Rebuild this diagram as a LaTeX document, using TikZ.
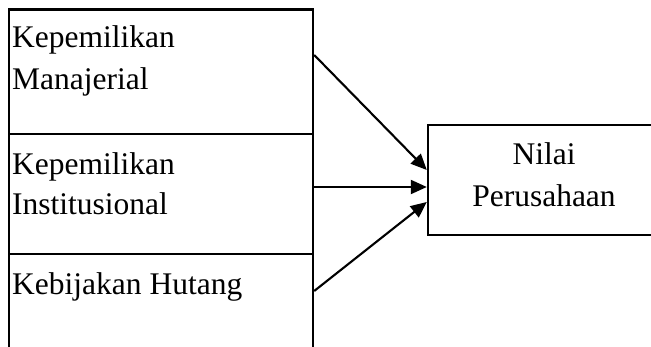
\documentclass[tikz,border=0pt]{standalone}
\usepackage{fontspec}
\setmainfont{Liberation Serif}
\usetikzlibrary{arrows.meta}
\begin{document}
\begin{tikzpicture}[x=1pt,y=-1pt,
  box/.style={draw, line width=2.4pt, rectangle, inner sep=0pt},
  lbl/.style={font=\fontsize{31.5}{42}\selectfont, inner sep=0pt},
  link/.style={line width=2.1pt, -{Triangle[length=16pt,width=14pt]}}]
\useasboundingbox (0,0) rectangle (651,347);
\clip (0,0) rectangle (651,347);

% stacked variable boxes on the left (the last one runs off the bottom)
\node[box, minimum width=304pt, minimum height=124.5pt] (b1) at (161,71.75) {};
\node[box, minimum width=304pt, minimum height=120pt]   (b2) at (161,194) {};
\node[box, minimum width=304pt, minimum height=116pt]   (b3) at (161,312) {};

% dependent variable box on the right (runs off the right edge)
\node[box, minimum width=232pt, minimum height=110pt] (r) at (544,180) {};

% labels
\node[lbl, anchor=base west] (t1a) at (12,48)  {Kepemilikan};
\node[lbl, anchor=base west] (t1b) at (12,90)  {Manajerial};
\node[lbl, anchor=base west] (t2a) at (12,175) {Kepemilikan};
\node[lbl, anchor=base west] (t2b) at (12,215) {Institusional};
\node[lbl, anchor=base west] (t3)  at (12,295) {Kebijakan Hutang};
\node[lbl, anchor=base] (ra) at (544,165) {Nilai};
\node[lbl, anchor=base] (rb) at (544,207) {Perusahaan};

% influence arrows
\draw[link] ([yshift=16.75pt]b1.east) -- ([yshift=10pt]r.west);
\draw[link] ([yshift=7pt]b2.east)     -- ([yshift=-7pt]r.west);
\draw[link] ([yshift=21pt]b3.east)    -- ([yshift=-22pt]r.west);
\end{tikzpicture}
\end{document}
